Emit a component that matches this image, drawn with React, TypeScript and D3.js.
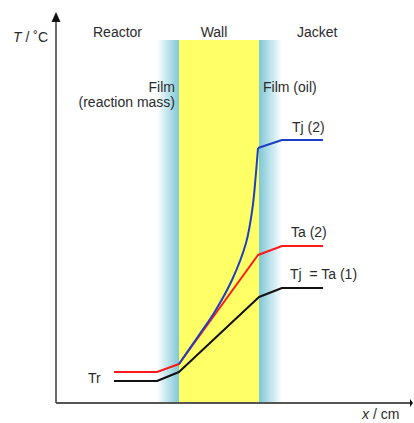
import React from "react";
import * as d3 from "d3";

// Temperature profile across reactor / wall / jacket (arbitrary units)
const zones = ["Reactor", "Wall", "Jacket"];
const filmInner = [10.1, 12.3]; // reaction-mass film
const wallSpan = [12.3, 20.3];
const filmOuter = [20.3, 22.6]; // oil film

// Tr -> Tj = Ta (1)
const profile1X = [5.8, 10.1, 12.3, 20.3, 22.6, 26.7];
const profile1T = [2.2, 2.2, 3.1, 10.6, 11.5, 11.5];

// Tr -> Ta (2)
const profile2X = [5.8, 10.1, 12.3, 20.2, 22.6, 26.7];
const profile2T = [3.1, 3.1, 3.9, 14.8, 15.7, 15.7];

// Tj (2): curved rise through the wall, then the oil film
const jacketCurveX = [12.3, 14.3, 15.8, 17.6, 19.0, 19.65, 19.98, 20.2];
const jacketCurveT = [3.9, 6.8, 9.0, 12.3, 16.0, 19.5, 22.8, 25.5];
const jacketTailX = [20.2, 22.6, 26.7];
const jacketTailT = [25.5, 26.3, 26.3];

const W = 414;
const H = 423;

export default function App() {
  const x = d3.scaleLinear().domain([0, 35.6]).range([56, 412]);
  const y = d3.scaleLinear().domain([0, 39.1]).range([403, 12]);
  const top = y(36.3);

  const lin = d3
    .line<[number, number]>()
    .x((d) => x(d[0]))
    .y((d) => y(d[1]));
  const smooth = d3
    .line<[number, number]>()
    .x((d) => x(d[0]))
    .y((d) => y(d[1]))
    .curve(d3.curveCatmullRom.alpha(0.5));

  const zip = (a: number[], b: number[]) =>
    a.map((v, i) => [v, b[i]] as [number, number]);

  const font = "'Liberation Sans', Arial, sans-serif";
  const txt = "#2b2b2b";

  const ax0 = x(0);
  const ayTop = y(39.1);

  return (
    <svg
      width={W}
      height={H}
      style={{ position: "absolute", left: 0, top: 0, fontFamily: font }}
    >
      <defs>
        <linearGradient id="filmL" x1="0" x2="1" y1="0" y2="0">
          <stop offset="0" stopColor="#ffffff" />
          <stop offset="0.45" stopColor="#c4e6ee" />
          <stop offset="1" stopColor="#7fc7d6" />
        </linearGradient>
        <linearGradient id="filmR" x1="0" x2="1" y1="0" y2="0">
          <stop offset="0" stopColor="#7fc7d6" />
          <stop offset="0.55" stopColor="#c4e6ee" />
          <stop offset="1" stopColor="#ffffff" />
        </linearGradient>
      </defs>
      <rect width={W} height={H} fill="#fff" />

      {/* films and wall */}
      <rect
        x={x(filmInner[0])}
        y={top}
        width={x(filmInner[1]) - x(filmInner[0])}
        height={y(0) - top}
        fill="url(#filmL)"
      />
      <rect
        x={x(wallSpan[0])}
        y={top}
        width={x(wallSpan[1]) - x(wallSpan[0])}
        height={y(0) - top}
        fill="#ffff66"
      />
      <rect
        x={x(filmOuter[0])}
        y={top}
        width={x(filmOuter[1]) - x(filmOuter[0])}
        height={y(0) - top}
        fill="url(#filmR)"
      />

      {/* axes */}
      <line
        x1={x(0)}
        x2={x(35.6)}
        y1={y(0)}
        y2={y(0)}
        stroke="#555"
        strokeWidth={2}
      />
      <path
        d={`M${x(35.6) - 2},${y(0) - 4} L${x(35.6) + 1},${y(0)} L${x(35.6) - 2},${y(0) + 4} Z`}
        fill="#111"
      />
      <line
        x1={ax0}
        x2={ax0}
        y1={y(0)}
        y2={ayTop + 8}
        stroke="#444"
        strokeWidth={1.6}
      />
      <path
        d={`M${ax0 - 4.5},${ayTop + 10} L${ax0},${ayTop} L${ax0 + 4.5},${ayTop + 10} Z`}
        fill="#111"
      />

      {/* temperature profiles */}
      <path
        d={lin(zip(profile1X, profile1T)) || ""}
        fill="none"
        stroke="#111"
        strokeWidth={2}
        strokeLinejoin="round"
      />
      <path
        d={lin(zip(profile2X, profile2T)) || ""}
        fill="none"
        stroke="#ff1a1a"
        strokeWidth={2}
        strokeLinejoin="round"
      />
      <path
        d={smooth(zip(jacketCurveX, jacketCurveT)) || ""}
        fill="none"
        stroke="#1d3fc4"
        strokeWidth={2}
      />
      <path
        d={lin(zip(jacketTailX, jacketTailT)) || ""}
        fill="none"
        stroke="#1d3fc4"
        strokeWidth={2}
        strokeLinejoin="round"
      />

      {/* labels */}
      <g fill={txt} fontSize={14}>
        <text x={13} y={42}>
          <tspan fontStyle="italic">T</tspan> / ˚C
        </text>
        <text x={93} y={37}>{zones[0]}</text>
        <text x={214} y={37} textAnchor="middle">{zones[1]}</text>
        <text x={297} y={37}>{zones[2]}</text>
        <text x={175} y={92} textAnchor="end">Film</text>
        <text x={175} y={107} textAnchor="end">(reaction mass)</text>
        <text x={263} y={92}>Film (oil)</text>
        <text x={292} y={132}>Tj (2)</text>
        <text x={291} y={237}>Ta (2)</text>
        <text x={290} y={279} xmlSpace="preserve">Tj  = Ta (1)</text>
        <text x={88} y={383}>Tr</text>
        <text x={362} y={419}>
          <tspan fontStyle="italic">x</tspan> / cm
        </text>
      </g>
    </svg>
  );
}
